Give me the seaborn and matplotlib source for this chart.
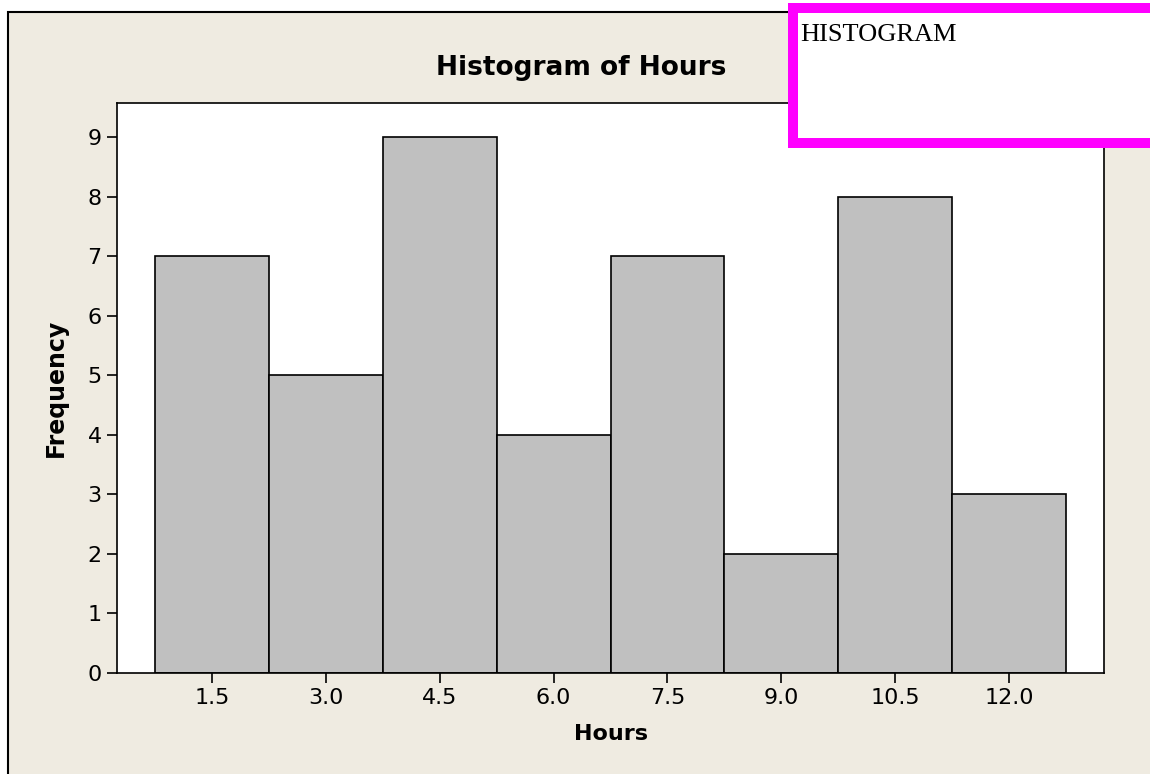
import numpy as np
import pandas as pd
import matplotlib
matplotlib.use("Agg")
import matplotlib.pyplot as plt
from matplotlib.patches import Rectangle
import seaborn as sns

# Data
bin_centers = [1.5, 3.0, 4.5, 6.0, 7.5, 9.0, 10.5, 12.0]
frequencies = [7, 5, 9, 4, 7, 2, 8, 3]
bin_edges = [0.75, 2.25, 3.75, 5.25, 6.75, 8.25, 9.75, 11.25, 12.75]
x_tick_labels = ["1.5", "3.0", "4.5", "6.0", "7.5", "9.0", "10.5", "12.0"]
y_ticks = [0, 1, 2, 3, 4, 5, 6, 7, 8, 9]

sns.set_theme(style="ticks")
plt.rcParams['font.family'] = ['DejaVu Sans']

W, H = 1150, 774
fig = plt.figure(figsize=(W / 100, H / 100), dpi=100, facecolor="white")

beige = "#EFEBE1"
frame = Rectangle((8 / W, -0.2), 1.5, 1 - 12 / H + 0.2, transform=fig.transFigure,
                  facecolor=beige, edgecolor="black", linewidth=1.5, zorder=0)
fig.add_artist(frame)

ax_l, ax_r, ax_t, ax_b = 117, 1104, 103, 673
ax = fig.add_axes([ax_l / W, (H - ax_b) / H, (ax_r - ax_l) / W, (ax_b - ax_t) / H])
ax.set_facecolor("white")

df = pd.DataFrame({"Hours": bin_centers, "Frequency": frequencies})
sns.histplot(data=df, x="Hours", weights="Frequency", bins=bin_edges, ax=ax,
             color="#C0C0C0", edgecolor="black", linewidth=1.2, alpha=1.0)

ax.set_xlim(0.25, 13.25)
ax.set_ylim(0, 9.57)
ax.set_xticks(bin_centers)
ax.set_xticklabels(x_tick_labels)
ax.set_yticks(y_ticks)
ax.tick_params(axis="both", direction="out", length=7, width=1.2, color="black",
               labelsize=16, labelcolor="black", pad=4)
for s in ax.spines.values():
    s.set_color("black")
    s.set_linewidth(1.2)
    s.set_visible(True)

ax.set_xlabel("Hours", fontsize=16, fontweight="bold", color="black", labelpad=11)
ax.set_ylabel("Frequency", fontsize=17, fontweight="bold", color="black", labelpad=14)
ax.set_title("Histogram of Hours", fontsize=19, fontweight="bold", color="black",
             pad=20, x=(581 - ax_l) / (ax_r - ax_l))

# Magenta annotation box
box = Rectangle((792.5 / W, 1 - 143 / H), 1.0, (143 - 8) / H, transform=fig.transFigure,
                facecolor="white", edgecolor="#FF00FF", linewidth=7.2, zorder=10)
fig.add_artist(box)
fig.text(800 / W, 1 - 24 / H, "HISTOGRAM", transform=fig.transFigure,
         fontfamily="Liberation Serif", fontsize=19, color="black",
         ha="left", va="top", zorder=11)

fig.savefig("out.png", dpi=100, facecolor="white")
